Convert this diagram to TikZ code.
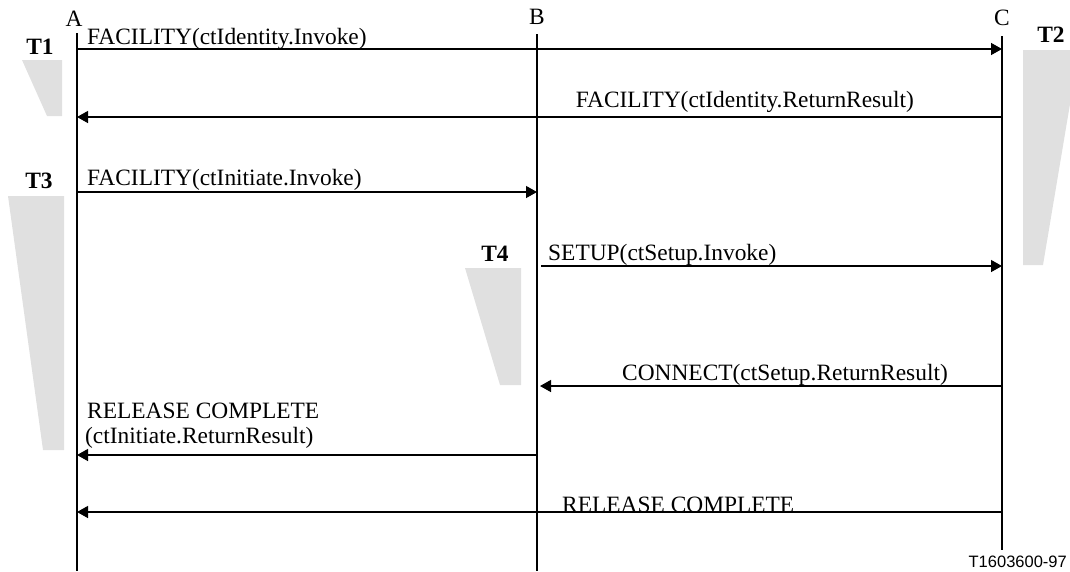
\documentclass[tikz,border=0pt]{standalone}
\usepackage{fontspec}
\setmainfont{Liberation Serif}
\newfontfamily\codefont{Liberation Sans}
\usetikzlibrary{arrows.meta}
\definecolor{timergray}{HTML}{E0E0E0}
\begin{document}
\begin{tikzpicture}[x=1pt,y=-1pt,
  msg/.style={line width=1.3pt,-{Triangle[length=11pt,width=12pt]}},
  life/.style={line width=2pt},
  timer/.style={fill=timergray,draw=none},
  lbl/.style={inner sep=0pt,font=\fontsize{23.4}{28}\selectfont},
  tlbl/.style={inner sep=0pt,anchor=base,font=\fontsize{23.4}{28}\selectfont\bfseries},
]
\useasboundingbox (0,0) rectangle (1070,571);

% timers
\fill[timer] (22,60) -- (62,60) -- (62,116) -- (47,116) -- cycle;
\fill[timer] (1023,50) -- (1070,50) -- (1070,104) -- (1043,265) -- (1023,265) -- cycle;
\fill[timer] (8,196) -- (64,196) -- (64,450) -- (43,450) -- cycle;
\fill[timer] (465,268) -- (521,268) -- (521,385) -- (500,385) -- cycle;
\node[tlbl] (t1) at (40,54) {T1};
\node[tlbl] (t2) at (1051,42) {T2};
\node[tlbl] (t3) at (39,188) {T3};
\node[tlbl] (t4) at (495,261) {T4};

% lifelines
\node[lbl,anchor=base] (hA) at (74,26) {A};
\node[lbl,anchor=base] (hB) at (537,24) {B};
\node[lbl,anchor=base] (hC) at (1002,25) {C};
\coordinate (Atop) at (77,33);  \coordinate (Abot) at (77,571);
\coordinate (Btop) at (537,34); \coordinate (Bbot) at (537,571);
\coordinate (Ctop) at (1002,36); \coordinate (Cbot) at (1002,550);
\draw[life] (Atop) -- (Abot);
\draw[life] (Btop) -- (Bbot);
\draw[life] (Ctop) -- (Cbot);

% message end points
\coordinate (m1s) at (77,49);   \coordinate (m1e) at (1002,49);
\coordinate (m2s) at (1002,117);\coordinate (m2e) at (77,117);
\coordinate (m3s) at (77,192);  \coordinate (m3e) at (537,192);
\coordinate (m4s) at (541,266); \coordinate (m4e) at (1002,266);
\coordinate (m5s) at (1002,386);\coordinate (m5e) at (540,386);
\coordinate (m6s) at (537,455); \coordinate (m6e) at (77,455);
\coordinate (m7s) at (1002,512);\coordinate (m7e) at (77,512);

\draw[msg] (m1s) -- (m1e);
\draw[msg] (m2s) -- (m2e);
\draw[msg] (m3s) -- (m3e);
\draw[msg] (m4s) -- (m4e);
\draw[msg] (m5s) -- (m5e);
\draw[msg] (m6s) -- (m6e);
\draw[msg] (m7s) -- (m7e);

% message labels
\node[lbl,anchor=base west] (l1) at (87,44) {FACILITY(ctIdentity.Invoke)};
\node[lbl,anchor=base east] (l2) at (914,107) {FACILITY(ctIdentity.ReturnResult)};
\node[lbl,anchor=base west] (l3) at (87,185) {FACILITY(ctInitiate.Invoke)};
\node[lbl,anchor=base west] (l4) at (548,260) {SETUP(ctSetup.Invoke)};
\node[lbl,anchor=base east] (l5) at (948,380) {CONNECT(ctSetup.ReturnResult)};
\node[lbl,anchor=base west] (l6a) at (87,418) {RELEASE COMPLETE};
\node[lbl,anchor=base west] (l6b) at (85,443) {(ctInitiate.ReturnResult)};
\node[lbl,anchor=base west] (l7) at (562,512) {RELEASE COMPLETE};

\node[inner sep=0pt,anchor=base east,font=\codefont\fontsize{16.5}{19}\selectfont] (code) at (1067,567) {T1603600-97};
\end{tikzpicture}
\end{document}
